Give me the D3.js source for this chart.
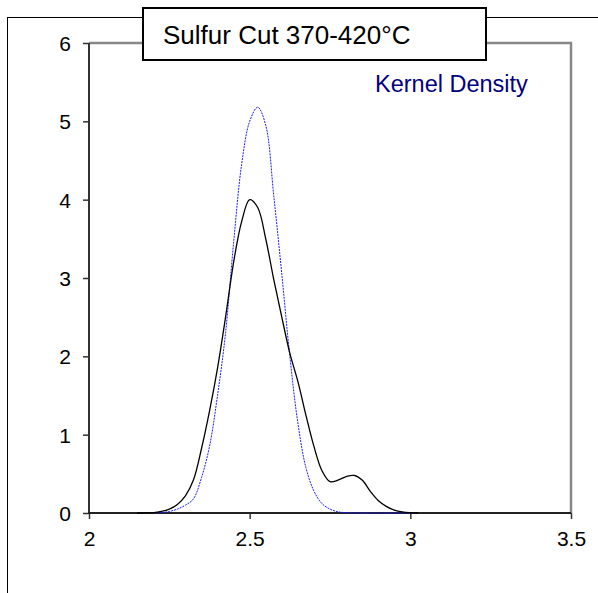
<!DOCTYPE html>
<html lang="en">
<head>
    <meta charset="UTF-8">
    <title>Sulfur Cut 370-420°C</title>
    <script src="https://d3js.org/d3.v7.min.js"></script>
    <style>
        body { margin: 0; background: #fff; }
        text { font-family: Arial, 'Liberation Sans', sans-serif; }
    </style>
</head>
<body>
<script>
    // values
    const xTicks = [2, 2.5, 3, 3.5];
    const yTicks = [0, 1, 2, 3, 4, 5, 6];

    const kdeX = [2.15, 2.2, 2.225, 2.25, 2.275, 2.3, 2.325, 2.35, 2.375, 2.4, 2.425, 2.45, 2.475, 2.5,
                  2.525, 2.55, 2.575, 2.6, 2.625, 2.65, 2.675, 2.7, 2.725, 2.75, 2.775, 2.8, 2.825,
                  2.85, 2.875, 2.9, 2.925, 2.95, 2.975, 3.0, 3.025];
    const kdeY = [0, 0.005, 0.02, 0.05, 0.11, 0.22, 0.42, 0.82, 1.3, 1.85, 2.5, 3.2, 3.72, 4.0,
                  3.9, 3.5, 2.98, 2.5, 2.04, 1.68, 1.25, 0.85, 0.54, 0.4, 0.42, 0.465, 0.48,
                  0.42, 0.28, 0.16, 0.085, 0.038, 0.014, 0.004, 0];

    const normX = [2.2, 2.225, 2.25, 2.275, 2.3, 2.325, 2.35, 2.375, 2.4, 2.425, 2.45, 2.475, 2.5,
                   2.525, 2.55, 2.575, 2.6, 2.625, 2.65, 2.675, 2.7, 2.725, 2.75, 2.775, 2.8, 2.85, 3.0];
    const normY = [0.002, 0.005, 0.02, 0.05, 0.1, 0.18, 0.45, 0.85, 1.5, 2.3, 3.45, 4.45, 5.0,
                   5.18, 4.95, 4.05, 3.05, 2.0, 1.15, 0.58, 0.28, 0.12, 0.05, 0.015, 0.004, 0, 0];

    const W = 598, H = 593;
    const pLeft = 89, pRight = 571, pTop = 43, pBottom = 513;

    const x = d3.scaleLinear().domain([2, 3.5]).range([pLeft, pRight]);
    const y = d3.scaleLinear().domain([0, 6]).range([pBottom, pTop]);

    const svg = d3.select("body").append("svg")
        .attr("width", W).attr("height", H);

    // outer chart border
    svg.append("rect")
        .attr("x", 7.5).attr("y", 17.5)
        .attr("width", 800).attr("height", 800)
        .attr("fill", "none").attr("stroke", "#000").attr("stroke-width", 1);

    // plot frame (top + right in grey)
    svg.append("path")
        .attr("d", `M${pLeft},${pTop}H${pRight}V${pBottom}`)
        .attr("fill", "none").attr("stroke", "#888").attr("stroke-width", 2.5);

    const xAxis = svg.append("g")
        .attr("transform", `translate(0,${pBottom})`)
        .call(d3.axisBottom(x).tickValues(xTicks).tickSize(6).tickSizeOuter(0)
              .tickFormat(d3.format("")));
    const yAxis = svg.append("g")
        .attr("transform", `translate(${pLeft},0)`)
        .call(d3.axisLeft(y).tickValues(yTicks).tickSize(6).tickSizeOuter(0)
              .tickFormat(d3.format("")));

    [xAxis, yAxis].forEach(g => {
        g.select(".domain").remove();
        g.selectAll(".tick line").attr("stroke", "#333").attr("stroke-width", 1.5);
        g.selectAll(".tick text").attr("fill", "#000").style("font-size", "21px");
    });
    xAxis.selectAll(".tick text").attr("dy", null).attr("y", 33);
    yAxis.selectAll(".tick text").attr("x", -18).attr("dy", "0.36em");

    // axis lines
    svg.append("line")
        .attr("x1", pLeft).attr("x2", pLeft).attr("y1", pTop).attr("y2", pBottom + 1)
        .attr("stroke", "#333").attr("stroke-width", 2);
    svg.append("line")
        .attr("x1", pLeft - 1).attr("x2", pRight).attr("y1", pBottom).attr("y2", pBottom)
        .attr("stroke", "#222").attr("stroke-width", 2);

    const line = d3.line()
        .x(d => x(d[0])).y(d => y(d[1]))
        .curve(d3.curveCatmullRom.alpha(0.5));

    svg.append("path")
        .datum(normX.map((v, i) => [v, normY[i]]))
        .attr("d", line)
        .attr("fill", "none").attr("stroke", "#1a1aff")
        .attr("stroke-width", 1).attr("stroke-dasharray", "2,1");

    svg.append("path")
        .datum(kdeX.map((v, i) => [v, kdeY[i]]))
        .attr("d", line)
        .attr("fill", "none").attr("stroke", "#000").attr("stroke-width", 1.3);

    // title box
    svg.append("rect")
        .attr("x", 143).attr("y", 8).attr("width", 343).attr("height", 52)
        .attr("fill", "#fff").attr("stroke", "#000").attr("stroke-width", 2);
    svg.append("text")
        .attr("x", 163).attr("y", 43.5)
        .style("font-size", "26px")
        .text("Sulfur Cut 370-420°C");

    svg.append("text")
        .attr("x", 375).attr("y", 91.5)
        .attr("fill", "#000080")
        .style("font-size", "23.5px")
        .text("Kernel Density");
</script>
</body>
</html>
